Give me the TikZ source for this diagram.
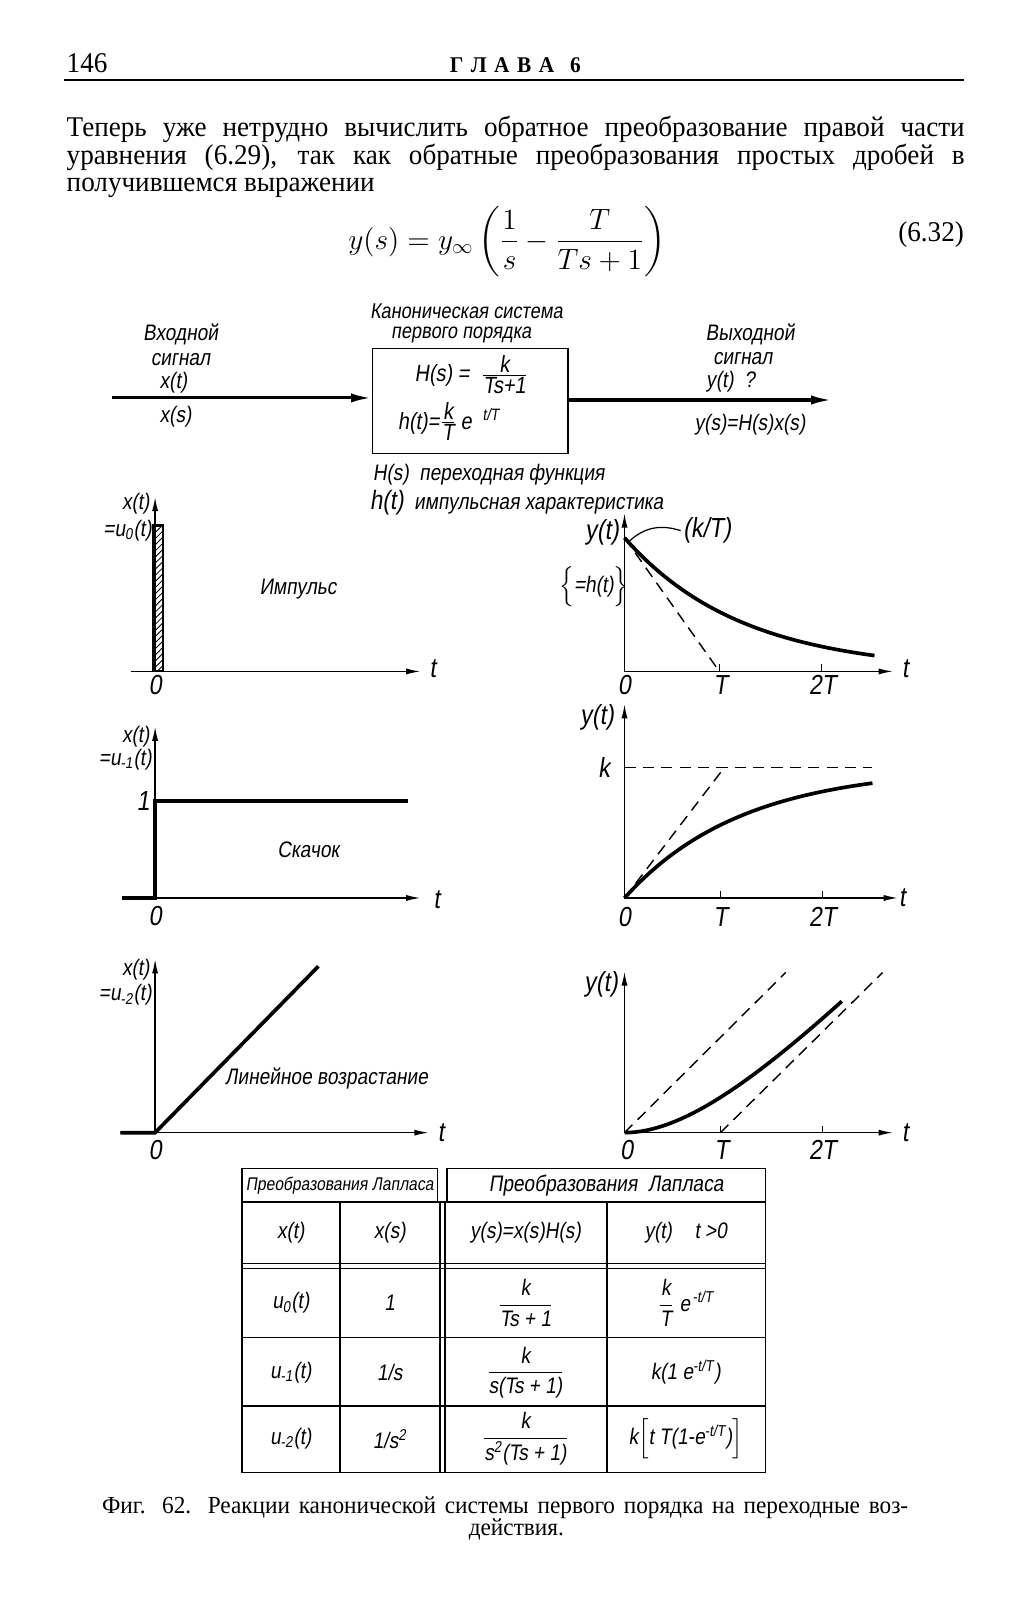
\documentclass[tikz,border=0pt]{standalone}
\usepackage{amsmath}
\usepackage{fontspec}
\setmainfont{Liberation Serif}[FakeStretch=0.95]
\newfontfamily\hand{Liberation Sans}[FakeStretch=0.85,FakeSlant=0.15]
\usetikzlibrary{arrows.meta,positioning,patterns}
\newcommand\hfr[2]{\ensuremath{\dfrac{\hbox{#1}}{\hbox{#2}}}}
\newcommand\sfr[2]{\ensuremath{\genfrac{}{}{}{1}{\hbox{#1}}{\hbox{#2}}}}

\begin{document}
\begin{tikzpicture}[x=0.5pt,y=-0.5pt,
  body/.style={font=\fontsize{14}{17}\selectfont,inner sep=0pt},
  lab/.style={font=\hand\fontsize{11}{13}\selectfont,inner sep=1pt},
  small/.style={font=\hand\fontsize{10.5}{12}\selectfont,inner sep=0.5pt},
  inbox/.style={font=\hand\fontsize{11.5}{13}\selectfont,inner sep=0.5pt},
  big/.style={font=\hand\fontsize{13.5}{15}\selectfont,inner sep=1pt},
  cell/.style={font=\hand\fontsize{11}{13}\selectfont,inner sep=1pt},
  sysbox/.style={draw,line width=0.9pt,minimum width=96pt,minimum height=51.5pt,inner sep=0pt},
  sig/.style={line width=1.5pt,-{Latex[length=10pt,width=4.5pt]}},
  axis/.style={line width=0.7pt,-{Latex[length=7pt,width=3pt]}},
  curve/.style={line width=1.8pt},
  guide/.style={line width=0.7pt,dash pattern=on 5.5pt off 3.5pt},
  tickmark/.style={line width=0.6pt},
  grid/.style={line width=0.7pt}]

\fill[white] (0,0) rectangle (1006,1568);
\useasboundingbox (0,0) rectangle (1006,1568);

% ===== page head and text =====
\node[body,anchor=base west] (pgno) at (65,71) {146};
\node[font=\bfseries\fontsize{11}{13}\selectfont,anchor=base] (chap) at (505,71) {Г\,\,Л\,\,А\,\,В\,\,А\ \ \ 6};
\draw[line width=1pt] (63,78) -- (945,78);
\node[body,anchor=base west] (par1) at (65,134) {\makebox[440pt][s]{Теперь уже нетрудно вычислить обратное преобразование правой части}};
\node[body,anchor=base west] (par2) at (65,161) {\makebox[440pt][s]{уравнения (6.29), так как обратные преобразования простых дробей в}};
\node[body,anchor=base west] (par3) at (65,188) {получившемся выражении};
\node[font=\fontsize{14}{17}\selectfont] (eq) at (497,237)
  {$\displaystyle y(s)=y_\infty\left(\frac{1}{s}-\frac{T}{Ts+1}\right)$};
\node[body,anchor=east] (eqno) at (945,230) {(6.32)};

% ===== block diagram =====
\node[sysbox] (sys) at (461,393) {};
\node[small] (sysh1) at (457,305) {Каноническая система};
\node[small] (sysh2) at (452,328) {первого порядка};
\node[inbox] (Hs) at (462,367) {H(s) =\ \ \sfr{k}{Ts+1}};
\node[inbox] (ht) at (440,413) {h(t)=\sfr{k}{T}\,e\ \ \textsuperscript{t/T}};
\coordinate (in) at (110,390);
\coordinate (out) at (815,392);
\draw[sig] (in) -- (in -| sys.west);
\draw[sig] (sys.east |- out) -- (out);
\node[lab] (inl1) at (177,328) {Входной};
\node[lab] (inl2) at (177,352) {сигнал};
\node[lab] (inxt) at (170,375) {x(t)};
\node[lab] (inxs) at (172,408) {x(s)};
\node[lab] (outl1) at (735,328) {Выходной};
\node[lab] (outl2) at (728,351) {сигнал};
\node[lab] (outyt) at (716,374) {y(t)\ \ ?};
\node[lab] (outys) at (735,416) {y(s)=H(s)x(s)};
\node[lab,anchor=west] (defH) at (363,465) {H(s)\ \ переходная функция};
\node[lab,anchor=west] (defh) at (360,493) {{\fontsize{13}{15}\selectfont h(t)}\ \ импульсная характеристика};

% ===== impulse =====
\draw[axis] (128,658) -- (412,658);
\draw[axis] (152,658) -- (152,487);
\draw[line width=1pt,pattern=north east lines] (150,515) rectangle (160,658);
\node[lab,anchor=east] (x1) at (149,494) {x(t)};
\node[lab,anchor=east] (u0) at (151,520) {=u\textsubscript{0}(t)};
\node[lab] (imp) at (292,577) {Импульс};
\node[big] (o1) at (152,671) {0};
\node[big] (t1) at (424,655) {t};

% ===== impulse response =====
\draw[axis] (612,658) -- (875,658);
\draw[axis] (612,658) -- (612,503);
\foreach \tx in {705,805} \draw[tickmark] (\tx,658) -- (\tx,651);
\draw[guide] (612,527) -- (705,658);
\draw[curve] plot[domain=612:857,samples=40] (\x,{658-131*exp(-(\x-612)/115)});
\node[big,anchor=east] (y2) at (609,522) {y(t)};
\node[big] (kT) at (693,520) {(k/T)};
\draw[line width=0.6pt] (616,531) .. controls (632,516) and (648,514) .. (kT.west);
\node[lab] (hbr) at (582,575) {$\Bigl\{\hbox{=h(t)}\Bigr\}$};
\node[big] (o2) at (612,671) {0};
\node[big] (T2) at (706,671) {T};
\node[big] (TT2) at (806,671) {2T};
\node[big] (t2) at (887,655) {t};

% ===== step =====
\draw[axis] (120,880) -- (412,880);
\draw[axis] (152,880) -- (152,712);
\draw[curve] (120,880) -- (152,880) -- (152,785) -- (400,785);
\node[big,anchor=east] (one3) at (149,785) {1};
\node[lab,anchor=east] (x3) at (149,722) {x(t)};
\node[lab,anchor=east] (u1) at (151,744) {=u\textsubscript{-1}(t)};
\node[lab] (stp) at (302,833) {Скачок};
\node[big] (o3) at (152,898) {0};
\node[big] (t3) at (428,882) {t};

% ===== step response =====
\draw[axis] (612,880) -- (880,880);
\draw[axis] (612,880) -- (612,690);
\foreach \tx in {706,806} \draw[tickmark] (\tx,880) -- (\tx,873);
\draw[guide] (612,752) -- (855,752);
\draw[guide] (612,880) -- (710,752);
\draw[curve] plot[domain=612:855,samples=40] (\x,{880-128*(1-exp(-(\x-612)/115))});
\node[big,anchor=east] (y4) at (604,703) {y(t)};
\node[big] (k4) at (592,752) {k};
\node[big] (o4) at (612,899) {0};
\node[big] (T4) at (706,899) {T};
\node[big] (TT4) at (806,899) {2T};
\node[big] (t4) at (884,880) {t};

% ===== ramp =====
\draw[axis] (118,1110) -- (420,1110);
\draw[axis] (152,1110) -- (152,940);
\draw[curve] (118,1110) -- (152,1110) -- (312,947);
\node[lab,anchor=east] (x5) at (149,950) {x(t)};
\node[lab,anchor=east] (u2) at (151,975) {=u\textsubscript{-2}(t)};
\node[lab] (rmp) at (320,1057) {Линейное возрастание};
\node[big] (o5) at (152,1127) {0};
\node[big] (t5) at (432,1110) {t};

% ===== ramp response =====
\draw[axis] (612,1110) -- (875,1110);
\draw[axis] (612,1110) -- (612,952);
\foreach \tx in {706,806} \draw[tickmark] (\tx,1110) -- (\tx,1103);
\draw[guide] (612,1110) -- (770,953);
\draw[guide] (706,1110) -- (865,953);
\draw[curve] plot[domain=612:825,samples=40] (\x,{1110-((\x-612)-94*(1-exp(-(\x-612)/94)))});
\node[big,anchor=east] (y6) at (608,965) {y(t)};
\node[big] (o6) at (614,1127) {0};
\node[big] (T6) at (707,1127) {T};
\node[big] (TT6) at (806,1127) {2T};
\node[big] (t6) at (887,1110) {t};

% ===== table =====
\draw[grid] (237,1145) rectangle (429,1178);
\draw[grid] (438,1145) rectangle (750,1178);
\draw[grid] (237,1178) rectangle (750,1443);
\foreach \cx in {333,431,436,595} \draw[grid] (\cx,1178) -- (\cx,1443);
\foreach \ry in {1238,1243,1311,1378} \draw[grid] (237,\ry) -- (750,\ry);
\node[cell,font=\hand\fontsize{9}{11}\selectfont] (hl) at (333,1162) {Преобразования Лапласа};
\node[cell] (hr) at (594,1162) {Преобразования\ \ Лапласа};
\node[cell] (c01) at (285,1208) {x(t)};
\node[cell] (c02) at (382,1208) {x(s)};
\node[cell] (c03) at (515,1208) {y(s)=x(s)H(s)};
\node[cell] (c04) at (672,1208) {y(t)\quad t >0};
\node[cell] (c11) at (285,1277) {u\textsubscript{0}(t)};
\node[cell] (c12) at (382,1277) {1};
\node[cell] (c13) at (515,1277) {\hfr{k}{Ts + 1}};
\node[cell] (c14) at (672,1277) {\hfr{k}{T}\ e\textsuperscript{\,-t/T}};
\node[cell] (c21) at (285,1345) {u\textsubscript{-1}(t)};
\node[cell] (c22) at (382,1345) {1/s};
\node[cell] (c23) at (515,1345) {\hfr{k}{s(Ts + 1)}};
\node[cell] (c24) at (672,1345) {k(1 e\textsuperscript{-t/T})};
\node[cell] (c31) at (285,1410) {u\textsubscript{-2}(t)};
\node[cell] (c32) at (382,1410) {1/s\textsuperscript{2}};
\node[cell] (c33) at (515,1410) {\hfr{k}{s\textsuperscript{2}(Ts + 1)}};
\node[cell] (c34) at (672,1410) {k$\Bigl[$t T(1-e\textsuperscript{-t/T})$\Bigr]$};

% ===== caption =====
\node[font=\fontsize{12}{14}\selectfont,anchor=base] (cap1) at (495,1483)
  {\makebox[395pt][s]{Фиг. 62. Реакции канонической системы первого порядка на переходные воз-}};
\node[font=\fontsize{12}{14}\selectfont,anchor=base] (cap2) at (506,1505) {действия.};

\end{tikzpicture}
\end{document}
